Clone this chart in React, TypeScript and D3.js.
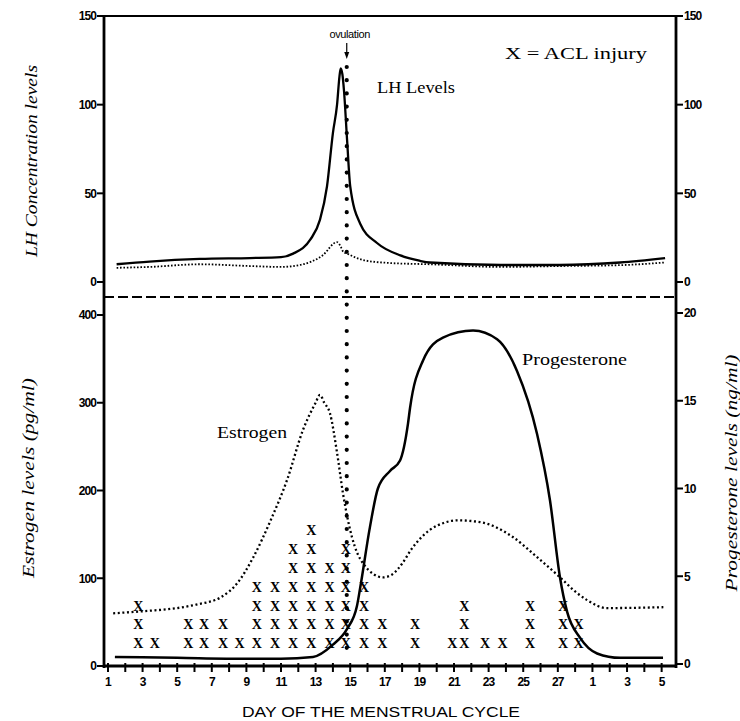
import React, { useEffect, useRef } from "react";
import * as d3 from "d3";

// day of the cycle: 1..28, then 29..33 are days 1..5 of the next cycle
const dayTicks = d3.range(1, 34);
const dayLabels = dayTicks.map((d) => (d <= 28 ? d : d - 28));

const lhTicks = [0, 50, 100, 150];
const estrogenTicks = [0, 100, 200, 300, 400];
const progesteroneTicks = [0, 5, 10, 15, 20];

const ovulationDay = 14.8;

// LH (solid) and the small dotted curve of the top panel, [day, value]
const lhLevels: [number, number][] = [
  [1.5, 10], [3.4, 11.5], [6.3, 13], [9.2, 13.5], [11, 14], [11.7, 16],
  [12.7, 24], [13.25, 35], [13.66, 54], [14.0, 84], [14.24, 100], [14.38, 116],
  [14.45, 120.5], [14.55, 117], [14.64, 108], [14.82, 80], [15.0, 54],
  [15.57, 33], [16.55, 22], [17.9, 15], [19.0, 12], [19.6, 11], [23.7, 9.6],
  [27.1, 9.6], [30.6, 11], [33.2, 13.5],
];
const fshLevels: [number, number][] = [
  [1.5, 8], [3.4, 8.5], [6.3, 10], [9.2, 9], [11, 8.5], [12.1, 9.6],
  [13.4, 15], [14.24, 22.5], [14.45, 20], [14.6, 17], [14.82, 16],
  [15.74, 12.4], [17.3, 10.7], [19.6, 10], [23.7, 8.5], [27.1, 9],
  [30.6, 9.5], [33.2, 11],
];

// estrogen (pg/ml, dotted) and progesterone (ng/ml, solid), [day, value]
const estrogenLevels: [number, number][] = [
  [1.3, 60], [3.4, 63], [4.6, 65], [6.1, 70], [7.5, 78], [8.5, 95],
  [9.4, 124], [10.4, 166], [11.35, 212], [12.27, 269], [13.0, 300],
  [13.25, 309], [13.5, 300], [13.83, 288], [14.24, 243], [14.58, 197],
  [15.1, 147], [15.74, 117], [16.9, 101], [17.4, 104], [18.05, 118],
  [18.5, 132], [19.6, 155], [20.4, 163], [21.2, 166], [22.5, 164],
  [24.4, 147], [25.8, 124], [27.13, 101], [28.0, 85], [28.7, 75],
  [29.84, 66], [33.1, 67],
];
const progesteroneLevels: [number, number][] = [
  [1.4, 0.4], [5, 0.35], [9, 0.3], [11, 0.3], [12.85, 0.4], [14.0, 1.1],
  [14.82, 2], [15.39, 3.3], [15.57, 4.3], [16.14, 7.8], [16.6, 10],
  [17.3, 11], [17.88, 11.6], [18.34, 13.7], [18.46, 14.6], [19.21, 17.3],
  [20.36, 18.6], [22.1, 19], [23.49, 18.5], [24.64, 16.7], [25.8, 13.1],
  [26.55, 9.3], [27.13, 4.9], [27.53, 3], [28.28, 1.5], [29.27, 0.6],
  [30.6, 0.35], [33.08, 0.35],
];

// ACL injuries: one X per case, stacked per day
const injuryDays = [
  2.75, 3.7, 5.65, 6.55, 7.65, 8.6, 9.6, 10.65, 11.7, 12.75, 13.8, 14.75,
  15.8, 16.85, 18.75, 20.9, 21.6, 22.8, 23.8, 25.4, 27.3, 28.2,
];
const injuryCounts = [3, 1, 2, 2, 2, 1, 4, 4, 6, 7, 5, 6, 4, 2, 2, 1, 3, 1, 1, 3, 3, 2];

const SANS = "'Liberation Sans', Arial, sans-serif";
const SERIF = "'Liberation Serif', 'Times New Roman', serif";

export default function App() {
  const ref = useRef<SVGSVGElement>(null);

  useEffect(() => {
    const svg = d3.select(ref.current);
    svg.selectAll("*").remove();

    const left = 104, right = 676;
    const x = d3.scaleLinear().domain([0.77, 33.83]).range([left, right]);
    const yLH = d3.scaleLinear().domain([0, 150]).range([282, 16]);
    const yE = d3.scaleLinear().domain([0, 400]).range([666, 315]);
    const yP = d3.scaleLinear().domain([0, 20]).range([664, 313]);
    const axisY = 666;

    const line = (yScale: d3.ScaleLinear<number, number>) =>
      d3.line<[number, number]>()
        .x((d) => x(d[0]))
        .y((d) => yScale(d[1]))
        .curve(d3.curveMonotoneX);

    // frame
    const frame = svg.append("g").attr("stroke", "#000").attr("fill", "none");
    frame.append("line").attr("x1", left).attr("x2", right).attr("y1", 16).attr("y2", 16).attr("stroke-width", 2);
    frame.append("line").attr("x1", left).attr("x2", left).attr("y1", 15).attr("y2", axisY + 2).attr("stroke-width", 2.8);
    frame.append("line").attr("x1", right).attr("x2", right).attr("y1", 15).attr("y2", axisY + 2).attr("stroke-width", 2.8);
    frame.append("line").attr("x1", left).attr("x2", right).attr("y1", axisY).attr("y2", axisY).attr("stroke-width", 2.8);
    // separator between panels
    frame.append("line").attr("x1", left).attr("x2", right).attr("y1", 297).attr("y2", 297)
      .attr("stroke-width", 2).attr("stroke-dasharray", "10 4");

    // y ticks
    const yTicks = (vals: number[], scale: d3.ScaleLinear<number, number>, side: "l" | "r") => {
      const g = svg.append("g");
      vals.forEach((v) => {
        const yy = scale(v);
        const x0 = side === "l" ? left : right;
        const dir = side === "l" ? -1 : 1;
        g.append("line").attr("x1", x0).attr("x2", x0 + dir * 7).attr("y1", yy).attr("y2", yy)
          .attr("stroke", "#000").attr("stroke-width", 2);
        g.append("text").attr("x", x0 + dir * 8).attr("y", yy).attr("dy", "0.36em")
          .attr("text-anchor", side === "l" ? "end" : "start")
          .attr("font-family", SANS).attr("font-size", 12).attr("font-weight", "bold")
          .attr("letter-spacing", -0.9).text(v);
      });
    };
    yTicks(lhTicks, yLH, "l");
    yTicks(lhTicks, yLH, "r");
    yTicks(estrogenTicks, yE, "l");
    yTicks(progesteroneTicks, yP, "r");

    // x ticks
    const xg = svg.append("g");
    dayTicks.forEach((d, i) => {
      xg.append("line").attr("x1", x(d)).attr("x2", x(d)).attr("y1", axisY - 3).attr("y2", axisY + 6)
        .attr("stroke", "#000").attr("stroke-width", 2);
      if (d % 2 === 1) {
        xg.append("text").attr("x", x(d)).attr("y", axisY + 16).attr("dy", "0.36em")
          .attr("text-anchor", "middle").attr("font-family", SANS).attr("font-size", 12)
          .attr("font-weight", "bold").attr("letter-spacing", -0.9).text(dayLabels[i]);
      }
    });

    // curves
    svg.append("path").datum(fshLevels).attr("d", line(yLH)).attr("fill", "none")
      .attr("stroke", "#000").attr("stroke-width", 1.8).attr("stroke-dasharray", "1.6 1.8");
    svg.append("path").datum(lhLevels).attr("d", line(yLH)).attr("fill", "none")
      .attr("stroke", "#000").attr("stroke-width", 2.3);
    svg.append("path").datum(estrogenLevels).attr("d", line(yE)).attr("fill", "none")
      .attr("stroke", "#000").attr("stroke-width", 2.3).attr("stroke-dasharray", "2 2.6");
    svg.append("path").datum(progesteroneLevels).attr("d", line(yP)).attr("fill", "none")
      .attr("stroke", "#000").attr("stroke-width", 2.5);

    // ACL injuries
    const xs = svg.append("g").attr("font-family", SERIF).attr("font-size", 14)
      .attr("text-anchor", "middle").attr("font-weight", "bold");
    injuryDays.forEach((d, i) => {
      for (let k = 0; k < injuryCounts[i]; k++) {
        xs.append("text").attr("x", x(d)).attr("y", yE(26 + 21.4 * k)).attr("dy", "0.35em").text("X");
      }
    });

    // ovulation marker
    const ox = x(ovulationDay);
    svg.append("line").attr("x1", ox).attr("x2", ox).attr("y1", 67).attr("y2", 652)
      .attr("stroke", "#000").attr("stroke-width", 4.2).attr("stroke-linecap", "round")
      .attr("stroke-dasharray", "0 13.2");
    svg.append("line").attr("x1", ox).attr("x2", ox).attr("y1", 43).attr("y2", 56)
      .attr("stroke", "#000").attr("stroke-width", 1.2);
    svg.append("path").attr("d", `M${ox - 2.5},52 L${ox},59 L${ox + 2.5},52 Z`).attr("fill", "#000");
    svg.append("text").attr("x", ox + 3).attr("y", 38).attr("text-anchor", "middle")
      .attr("font-family", SANS).attr("font-size", 11).attr("letter-spacing", -0.4).text("ovulation");

    // annotations
    const serifText = (t: string, tx: number, ty: number, size: number, len?: number) => {
      const el = svg.append("text").attr("x", tx).attr("y", ty).attr("font-family", SERIF)
        .attr("font-size", size).text(t);
      if (len) el.attr("textLength", len).attr("lengthAdjust", "spacingAndGlyphs");
      return el;
    };
    serifText("X =  ACL injury", 505, 59, 17, 142);
    serifText("LH Levels", 377, 93, 16, 78);
    serifText("Estrogen", 217, 438, 16, 70);
    serifText("Progesterone", 522, 365, 16, 105);

    // axis titles
    const rotated = (t: string, cx: number, cy: number, len: number) => {
      svg.append("text").attr("transform", `translate(${cx},${cy}) rotate(-90)`)
        .attr("text-anchor", "middle").attr("dy", "0.35em").attr("font-family", SERIF)
        .attr("font-style", "italic").attr("font-size", 17)
        .attr("textLength", len).attr("lengthAdjust", "spacingAndGlyphs").text(t);
    };
    rotated("LH Concentration levels", 31, 161, 192);
    rotated("Estrogen levels (pg/ml)", 28, 478, 200);
    rotated("Progesterone levels (ng/ml)", 731, 473, 237);

    svg.append("text").attr("x", 381).attr("y", 712).attr("dy", "0.35em").attr("text-anchor", "middle")
      .attr("font-family", SANS).attr("font-size", 14).attr("textLength", 278)
      .attr("lengthAdjust", "spacingAndGlyphs").text("DAY OF THE MENSTRUAL CYCLE");
  }, []);

  return (
    <svg
      ref={ref}
      width={740}
      height={721}
      style={{ position: "absolute", left: 0, top: 0, background: "#fff" }}
    />
  );
}
